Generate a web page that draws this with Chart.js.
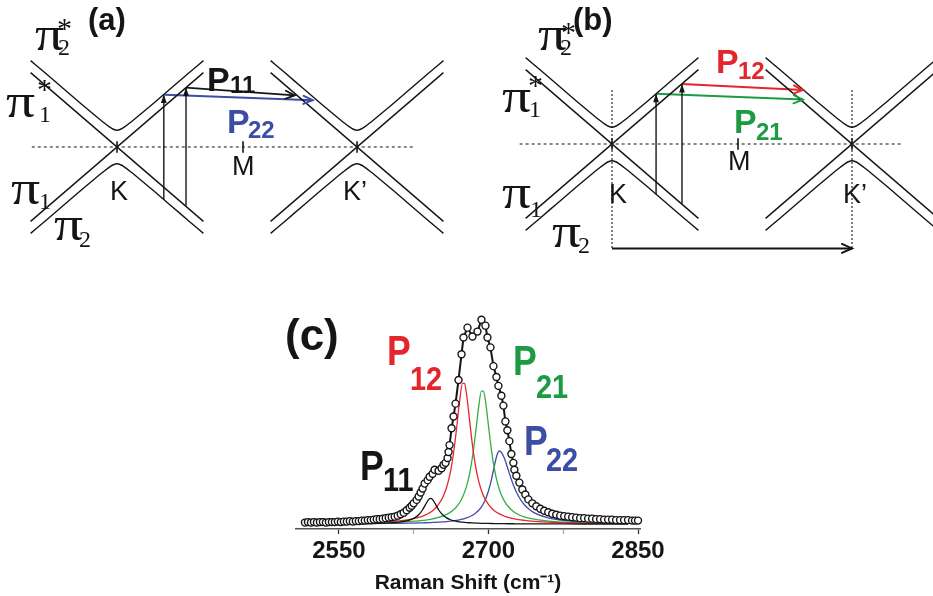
<!DOCTYPE html>
<html>
<head>
<meta charset="utf-8">
<script src="https://cdn.jsdelivr.net/npm/chart.js@4.4.1/dist/chart.umd.min.js"></script>
<style>
  body { margin: 0; background: #fff; }
  #fig { position: relative; width: 933px; height: 596px; background: #fff; overflow: hidden; }
  .panel { position: absolute; }
</style>
</head>
<body>
<div id="fig">
  <div class="panel" style="left:0; top:0; width:445px; height:270px;"><canvas id="panel-a"></canvas></div>
  <div class="panel" style="left:490px; top:0; width:443px; height:270px;"><canvas id="panel-b"></canvas></div>
  <div class="panel" style="left:256px; top:290px; width:424px; height:306px;"><canvas id="panel-c"></canvas></div>
</div>
<script>
// ---- band diagrams (k in units of K-M, E in the same units) ----
const valleyK = [0, 2];                 // K, K'
const markK = [0, 1.05, 2];             // K, M, K' ticks on the Fermi line
const markE = [-0.048, 0.048];
const coneK = [-0.72, 0.72];
const coneDownE = [0.62, -0.62];        // pi1* (left) -> pi1 (right)
const coneUpE = [-0.62, 0.62];          // pi1 (left) -> pi1* (right)
const hypK = [-0.72, -0.6, -0.45, -0.3, -0.2, -0.12, -0.06, -0.03, 0, 0.03, 0.06, 0.12, 0.2, 0.3, 0.45, 0.6, 0.72];
const hypUpperE = [0.72, 0.618, 0.489, 0.361, 0.277, 0.211, 0.165, 0.148, 0.14, 0.148, 0.165, 0.211, 0.277, 0.361, 0.489, 0.618, 0.72];
const hypLowerE = [-0.72, -0.618, -0.489, -0.361, -0.277, -0.211, -0.165, -0.148, -0.14, -0.148, -0.165, -0.211, -0.277, -0.361, -0.489, -0.618, -0.72];

// panel (a) transitions
const aDashK = [-0.71, 2.47];
const aUpK = [0.39, 0.575];
const aUpFrom = [-0.438, -0.49];
const aUpTo = [0.438, 0.495];
const aP11K = [0.575, 1.48];
const aP11E = [0.495, 0.43];
const aP22K = [0.4, 1.63];
const aP22E = [0.435, 0.39];

// panel (b) transitions
const bDashK = [-0.77, 2.42];
const bUpK = [0.367, 0.583];
const bUpFrom = [-0.418, -0.5];
const bUpTo = [0.418, 0.5];
const bP12K = [0.583, 1.59];
const bP12E = [0.5, 0.45];
const bP21K = [0.367, 1.59];
const bP21E = [0.418, 0.37];
const bGuideE = [0.45, -0.87];
const bShiftK = [0, 2];
const bShiftE = [-0.87, -0.87];

// ---- panel (c) Raman spectrum ----
const ramanShift = [2516,2519,2522,2525,2528,2531,2534,2537,2540,2543,2546,2549,2552,2555,2558,2561,2564,2567,2570,2573,2576,2579,2582,2585,2588,2591,2594,2597,2600,2603,2606,2609,2612,2615,2618,2621,2623,2625,2628,2630,2632,2634,2636,2639,2641,2644,2646,2650,2653,2655,2657,2659,2660,2661,2663,2665,2667,2670,2673,2675,2679,2684,2689,2693,2697,2699,2702,2705,2708,2710,2713,2715,2717,2719,2721,2723,2725,2726,2728,2731,2734,2737,2740,2744,2748,2752,2756,2760,2764,2768,2772,2776,2780,2784,2788,2792,2796,2800,2804,2808,2812,2816,2820,2824,2828,2832,2836,2840,2844,2847,2850];
const ramanInt = [1.5,2,1.5,2,1.5,2,2,1.5,2,2,2,2.5,2,2.5,2.5,3,2.5,3,3,3.5,3.5,4,4,4.5,5,5,5.5,6,6.5,7,7.5,8.5,10,11.5,14,16.5,18.5,21,24.5,28,32,36,41,44.5,48,51,55,54,56.5,60,62,67,73,80,97,109,122,146,172,189,199,190,195,207,201,189,179,160,149,140,130,120,104,95,84,71,62,55,49,42,35,30,25,21,18,15.5,13.5,12,10.5,9.5,8.5,8,7.5,7,6.5,6,6,5.5,5.5,5,5,4.5,4.5,4.5,4,4,4,4,3.5,3.5,3.5];
const fitShift = [2560,2580,2600,2610,2620,2626,2630,2634,2637,2640,2642,2644,2647,2650,2654,2658,2662,2665,2668,2671,2674,2676,2678,2681,2684,2687,2690,2693,2695,2697,2700,2703,2706,2709,2711,2713,2716,2720,2725,2730,2736,2743,2750,2760,2775,2795,2820,2840];
const p11Fit = [0.31,0.54,1.14,1.91,3.73,6.25,9.36,14.5,19.9,24.8,26,24.8,19.9,14.5,9.36,6.25,4.38,3.45,2.78,2.28,1.91,1.7,1.53,1.31,1.14,1,0.88,0.79,0.73,0.68,0.61,0.55,0.5,0.46,0.43,0.41,0.38,0.34,0.3,0.27,0.24,0.2,0.18,0.15,0.12,0.09,0.07,0.05];
const p12Fit = [1.1,1.6,2.5,3.3,4.6,5.8,6.8,8.1,9.3,10.9,12.1,13.6,16.3,19.9,26.6,37,53.5,72,96.6,124,142.6,142.6,132,106,79.6,59,44.3,34,28.8,24.7,19.9,16.3,13.6,11.5,10.3,9.3,8.1,6.8,5.5,4.6,3.8,3,2.5,2,1.4,1,0.7,0.5];
const p21Fit = [0.75,1.04,1.52,1.9,2.44,2.88,3.24,3.68,4.06,4.51,4.85,5.23,5.89,6.68,8,9.74,12.1,14.45,17.5,21.6,27.2,32.1,38.2,50.6,68,91.3,117.2,134.7,134.7,124.8,100,75.1,55.7,41.8,35,29.5,23.3,17.5,12.8,9.7,7.3,5.4,4.2,3.05,2.04,1.32,0.85,0.64];
const p22Fit = [0.32,0.43,0.6,0.72,0.88,1.01,1.11,1.23,1.33,1.44,1.52,1.61,1.76,1.94,2.21,2.54,2.96,3.34,3.8,4.35,5.04,5.58,6.22,7.4,8.93,10.95,13.68,17.45,20.8,25,33.5,45.1,59.2,71.2,74,72.7,66.6,54.4,39.5,28.4,19.6,13.3,9.5,6.34,3.85,2.29,1.38,0.99];
const shiftTicks = [2550, 2625, 2700, 2775, 2850];
const majorTicks = [2550, 2700, 2850];

const SERIF = '"Liberation Serif", "Times New Roman", serif';
const SANS = '"Liberation Sans", Arial, sans-serif';
const INK = '#151515';
const RED = '#e3262b';
const GREEN = '#1c9a44';
const BLUE = '#3d4da3';

const pairs = (xs, ys) => xs.map((x, i) => ({ x: x, y: ys[i] }));

function seg(xs, ys, style) {
    return Object.assign({
        data: pairs(xs, ys), showLine: true, pointRadius: 0,
        borderColor: INK, borderWidth: 1.4, fill: false, tension: 0
    }, style || {});
}

// arrow heads at the last point of datasets flagged with `head`
const arrowHeads = {
    id: 'arrowHeads',
    afterDatasetsDraw(chart) {
        const ctx = chart.ctx;
        chart.data.datasets.forEach((ds, i) => {
            if (!ds.head) return;
            const pts = chart.getDatasetMeta(i).data;
            const p1 = pts[pts.length - 1], p0 = pts[pts.length - 2];
            const ang = Math.atan2(p1.y - p0.y, p1.x - p0.x);
            const len = ds.headLen || 10, half = ds.headHalf || 0.42;
            ctx.save();
            ctx.strokeStyle = ds.borderColor;
            ctx.fillStyle = ds.borderColor;
            ctx.lineWidth = ds.borderWidth;
            ctx.lineCap = 'round';
            ctx.beginPath();
            ctx.moveTo(p1.x - len * Math.cos(ang - half), p1.y - len * Math.sin(ang - half));
            ctx.lineTo(p1.x, p1.y);
            ctx.lineTo(p1.x - len * Math.cos(ang + half), p1.y - len * Math.sin(ang + half));
            if (ds.head === 'filled') { ctx.closePath(); ctx.fill(); } else { ctx.stroke(); }
            ctx.restore();
        });
    }
};

function textPlugin(items) {
    return {
        id: 'textLabels',
        afterDraw(chart) {
            const ctx = chart.ctx;
            items.forEach(it => {
                ctx.save();
                ctx.font = it.font;
                ctx.fillStyle = it.color || INK;
                ctx.textBaseline = 'alphabetic';
                ctx.translate(it.x, it.y);
                ctx.scale(it.sx || 1, 1);
                ctx.fillText(it.t, 0, 0);
                ctx.restore();
            });
        }
    };
}

function cone(kv) {
    const shift = ks => ks.map(k => k + kv);
    return [
        seg(shift(coneK), coneDownE),
        seg(shift(coneK), coneUpE),
        seg(shift(hypK), hypUpperE, { cubicInterpolationMode: 'monotone' }),
        seg(shift(hypK), hypLowerE, { cubicInterpolationMode: 'monotone' })
    ];
}

function baseSets(dashK) {
    let sets = [];
    valleyK.forEach(kv => { sets = sets.concat(cone(kv)); });
    sets.push(seg(dashK, [0, 0], { borderDash: [3, 3], borderWidth: 1.1 }));
    markK.forEach(k => sets.push(seg([k, k], markE, { borderWidth: 1.6 })));
    return sets;
}

function bandChart(id, xr, yr, datasets, labels) {
    return new Chart(document.getElementById(id), {
        type: 'scatter',
        data: { datasets: datasets },
        options: {
            responsive: true, maintainAspectRatio: false, animation: false, events: [],
            layout: { padding: 0, autoPadding: false },
            scales: {
                x: { type: 'linear', display: false, min: xr[0], max: xr[1] },
                y: { type: 'linear', display: false, min: yr[0], max: yr[1] }
            },
            plugins: { legend: { display: false }, tooltip: { enabled: false } }
        },
        plugins: [arrowHeads, textPlugin(labels)]
    });
}

const PI = `48px ${SERIF}`, SUB = `24px ${SERIF}`, STAR = `30px ${SERIF}`;
const KF = `27px ${SANS}`, PF = `bold 34px ${SANS}`, PS = `bold 24px ${SANS}`;
const PIX = 1.2;

// (a)
const aSets = baseSets(aDashK);
aUpK.forEach((k, i) => aSets.push(seg([k, k], [aUpFrom[i], aUpTo[i]], { head: 'filled', headLen: 9, headHalf: 0.33, borderWidth: 1.4 })));
aSets.push(seg(aP22K, aP22E, { head: 'open', borderColor: BLUE, borderWidth: 2 }));
aSets.push(seg(aP11K, aP11E, { head: 'open', borderWidth: 1.8 }));
bandChart('panel-a', [-0.975, 2.733], [-1.025, 1.225], aSets, [
    { t: 'π', x: 35, y: 50, font: PI, sx: PIX }, { t: '2', x: 58, y: 55, font: SUB }, { t: '*', x: 57, y: 38, font: STAR },
    { t: '(a)', x: 88, y: 30, font: `bold 31px ${SANS}` },
    { t: 'π', x: 6, y: 117, font: PI, sx: PIX }, { t: '*', x: 37, y: 99, font: STAR }, { t: '1', x: 39, y: 122, font: SUB },
    { t: 'π', x: 11, y: 204, font: PI, sx: PIX }, { t: '1', x: 39, y: 209, font: SUB },
    { t: 'π', x: 54, y: 240, font: PI, sx: PIX }, { t: '2', x: 79, y: 247, font: SUB },
    { t: 'K', x: 110, y: 200, font: KF }, { t: 'M', x: 232, y: 175, font: KF }, { t: 'K’', x: 343, y: 200, font: KF },
    { t: 'P', x: 207, y: 91, font: PF }, { t: '11', x: 230, y: 93, font: PS },
    { t: 'P', x: 227, y: 133, font: PF, color: BLUE }, { t: '22', x: 248, y: 138, font: PS, color: BLUE }
]);

// (b)
const bSets = baseSets(bDashK);
valleyK.forEach(k => bSets.push(seg([k, k], bGuideE, { borderDash: [2, 2], borderWidth: 1.1 })));
bUpK.forEach((k, i) => bSets.push(seg([k, k], [bUpFrom[i], bUpTo[i]], { head: 'filled', headLen: 9, headHalf: 0.33, borderWidth: 1.4 })));
bSets.push(seg(bP12K, bP12E, { head: 'open', borderColor: RED, borderWidth: 2 }));
bSets.push(seg(bP21K, bP21E, { head: 'open', borderColor: GREEN, borderWidth: 2 }));
bSets.push(seg(bShiftK, bShiftE, { head: 'open', headLen: 11, borderWidth: 2 }));
bandChart('panel-b', [-1.017, 2.675], [-1.05, 1.2], bSets, [
    { t: 'π', x: 48, y: 50, font: PI, sx: PIX }, { t: '2', x: 70, y: 55, font: SUB }, { t: '*', x: 71, y: 42, font: STAR },
    { t: '(b)', x: 83, y: 30, font: `bold 31px ${SANS}` },
    { t: 'π', x: 12, y: 112, font: PI, sx: PIX }, { t: '*', x: 38, y: 95, font: STAR }, { t: '1', x: 39, y: 117, font: SUB },
    { t: 'π', x: 12, y: 208, font: PI, sx: PIX }, { t: '1', x: 40, y: 217, font: SUB },
    { t: 'π', x: 62, y: 247, font: PI, sx: PIX }, { t: '2', x: 88, y: 253, font: SUB },
    { t: 'K', x: 119, y: 203, font: KF }, { t: 'M', x: 238, y: 170, font: KF }, { t: 'K’', x: 353, y: 203, font: KF },
    { t: 'P', x: 226, y: 73, font: PF, color: RED }, { t: '12', x: 248, y: 79, font: PS, color: RED },
    { t: 'P', x: 244, y: 133, font: PF, color: GREEN }, { t: '21', x: 266, y: 140, font: PS, color: GREEN }
]);

// (c)
const fit = (ys, color) => seg(fitShift, ys, { borderColor: color, borderWidth: 1.3, cubicInterpolationMode: 'monotone', order: 1 });
const BIG = `bold 42px ${SANS}`, SMALL = `bold 34px ${SANS}`;
new Chart(document.getElementById('panel-c'), {
    type: 'scatter',
    data: {
        datasets: [
            { data: pairs(ramanShift, ramanInt), showLine: true, borderColor: INK, borderWidth: 2,
              pointRadius: 3.5, pointBorderWidth: 1.4, pointBackgroundColor: '#fff', pointBorderColor: INK,
              order: 0, clip: false },
            fit(p11Fit, INK), fit(p12Fit, '#e8262c'), fit(p21Fit, '#35ad45'), fit(p22Fit, '#4049a8')
        ]
    },
    options: {
        responsive: true, maintainAspectRatio: false, animation: false, events: [],
        layout: { padding: { left: 40, right: 40, top: 10, bottom: 0 }, autoPadding: false },
        scales: {
            x: {
                type: 'linear', min: 2507, max: 2852,
                afterBuildTicks: s => { s.ticks = shiftTicks.map(v => ({ value: v })); },
                ticks: {
                    callback: v => majorTicks.includes(v) ? String(v) : '',
                    font: { family: SANS, size: 24, weight: 'bold' }, color: INK,
                    padding: 3, maxRotation: 0, autoSkip: false
                },
                grid: {
                    drawOnChartArea: false, drawTicks: true, tickLength: 5, tickWidth: 1.3,
                    tickColor: c => majorTicks.includes(c.tick && c.tick.value) ? '#333' : '#aaa'
                },
                border: { display: true, color: '#555', width: 1.5 },
                title: {
                    display: true, text: 'Raman Shift (cm⁻¹)', color: INK,
                    font: { family: SANS, size: 21, weight: 'bold' }, padding: { top: 2, bottom: 0 }
                }
            },
            y: { type: 'linear', display: false, min: -5, max: 227 }
        },
        plugins: { legend: { display: false }, tooltip: { enabled: false } }
    },
    plugins: [textPlugin([
        { t: '(c)', x: 29, y: 60, font: `bold 44px ${SANS}` },
        { t: 'P', x: 131, y: 75, font: BIG, sx: 0.85, color: RED }, { t: '12', x: 154, y: 100, font: SMALL, sx: 0.85, color: RED },
        { t: 'P', x: 257, y: 85, font: BIG, sx: 0.85, color: GREEN }, { t: '21', x: 280, y: 108, font: SMALL, sx: 0.85, color: GREEN },
        { t: 'P', x: 268, y: 165, font: BIG, sx: 0.85, color: BLUE }, { t: '22', x: 290, y: 181, font: SMALL, sx: 0.85, color: BLUE },
        { t: 'P', x: 104, y: 190, font: BIG, sx: 0.85 }, { t: '11', x: 127, y: 201, font: SMALL, sx: 0.85 }
    ])]
});
</script>
</body>
</html>
